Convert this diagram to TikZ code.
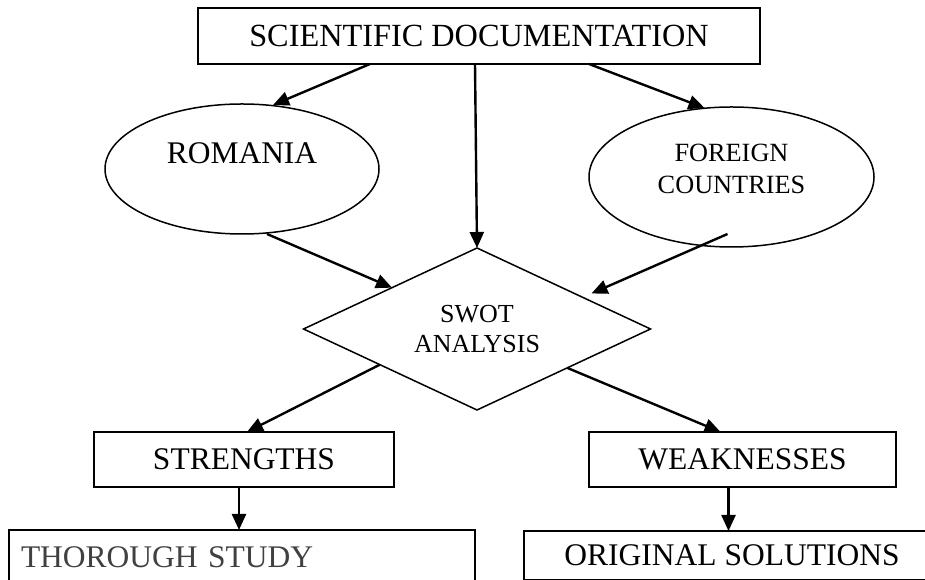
\documentclass[tikz,border=0pt]{standalone}
\usepackage{fontspec}
\setmainfont{Liberation Serif}
\usetikzlibrary{shapes.geometric,arrows.meta,calc}
\newcommand\fntbig{\fontsize{31.5}{37.8}\selectfont}
\newcommand\fnttop{\fontsize{32.3}{38.8}\selectfont}
\newcommand\fntsmall{\fontsize{26.3}{31.5}\selectfont}
\newcommand\fntswot{\fontsize{26}{30}\selectfont}
\begin{document}
\begin{tikzpicture}[x=1pt,y=1pt,
  box/.style={draw, line width=1.6pt, rectangle, inner sep=0pt, outer sep=0pt, font=\fntbig},
  oval/.style={draw, line width=1.5pt, ellipse, inner sep=0pt, outer sep=0pt},
  arr/.style={line width=2.4pt, -{Triangle[length=16pt,width=14pt]}},
  txt/.style={inner sep=0pt, outer sep=0pt}
]
\useasboundingbox (0,0) rectangle (925,580);
\clip (0,0) rectangle (925,580);

\node[box, minimum width=562pt, minimum height=56pt, font=\fnttop] (top) at (479,544) {SCIENTIFIC DOCUMENTATION};

\node[oval, minimum width=274pt, minimum height=130pt] (rom) at (242,411) {};
\node[txt, font=\fntbig] (romt) at ([yshift=16pt]rom.center) {ROMANIA};

\node[oval, minimum width=285pt, minimum height=140pt] (for) at (731.5,403) {};
\node[txt, font=\fntsmall, align=center] (fort) at ([yshift=8pt]for.center) {FOREIGN\\COUNTRIES};

\node[draw, line width=1.5pt, diamond, aspect=2.15, inner sep=2pt, outer sep=0pt,
      minimum width=347pt, minimum height=162pt, font=\fntswot, align=center] (swot) at (477,251) {SWOT\\ANALYSIS};

\node[box, minimum width=300pt, minimum height=55pt] (str) at (244,120.5) {STRENGTHS};
\node[box, minimum width=307pt, minimum height=55pt] (wk) at (742.5,120.5) {WEAKNESSES};

\node[box, text width=442pt, inner xsep=12pt, align=left, minimum height=54pt, text=black!75] (thor) at (242,23) {THOROUGH STUDY};
\node[box, minimum width=416pt, minimum height=49pt] (orig) at (732,24.5) {ORIGINAL SOLUTIONS};

\draw[arr] ([xshift=-109pt]top.south) -- ([xshift=31pt,yshift=-1pt]rom.north);
\draw[arr] ([xshift=-4pt]top.south) -- (swot.north);
\draw[arr] ([xshift=110pt]top.south) -- ([xshift=-27pt,yshift=-1pt]for.north);
\draw[arr] ([xshift=25pt]rom.south) -- ($(swot.west)!0.51!(swot.north)$);
\draw[arr] ([xshift=-4pt,yshift=13pt]for.south) -- ($(swot.north)!0.66!(swot.east)+(0,8)$);
\draw[arr] ($(swot.west)!0.44!(swot.south)$) -- ([xshift=3pt]str.north);
\draw[arr] ($(swot.east)!0.48!(swot.south)$) -- ([xshift=-22pt]wk.north);
\draw[arr] ([xshift=-5pt]str.south) -- ([xshift=-5pt]str.south |- thor.north);
\draw[arr] ([xshift=-14pt]wk.south) -- ([xshift=-14pt]wk.south |- orig.north);
\end{tikzpicture}
\end{document}
